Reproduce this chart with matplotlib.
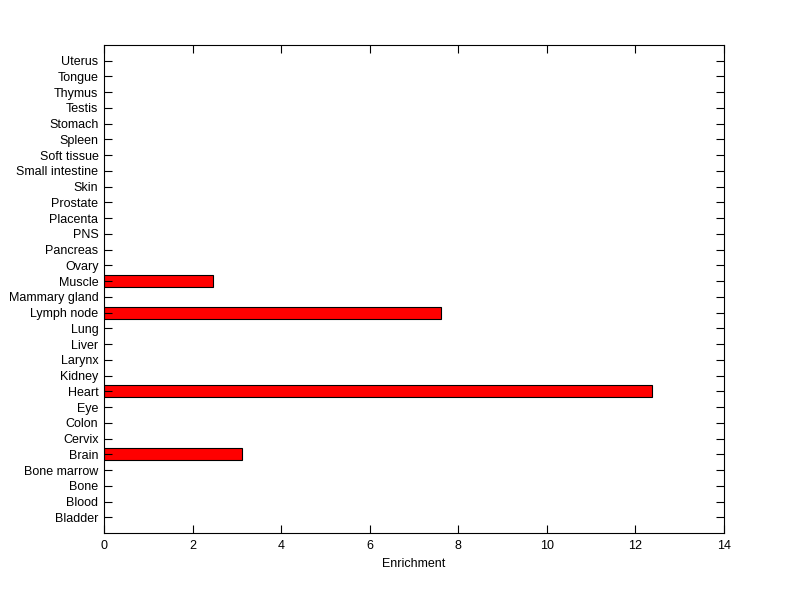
import matplotlib
matplotlib.use("Agg")
import matplotlib.pyplot as plt
import numpy as np

categories = ["Bladder", "Blood", "Bone", "Bone marrow", "Brain", "Cervix", "Colon",
              "Eye", "Heart", "Kidney", "Larynx", "Liver", "Lung", "Lymph node",
              "Mammary gland", "Muscle", "Ovary", "Pancreas", "PNS", "Placenta",
              "Prostate", "Skin", "Small intestine", "Soft tissue", "Spleen",
              "Stomach", "Testis", "Thymus", "Tongue", "Uterus"]
values = [0, 0, 0, 0, 3.11, 0, 0, 0, 12.38, 0, 0, 0, 0, 7.6, 0, 2.45,
          0, 0, 0, 0, 0, 0, 0, 0, 0, 0, 0, 0, 0, 0]
xticks = [0, 2, 4, 6, 8, 10, 12, 14]

plt.rcParams['font.family'] = ['Liberation Sans', 'DejaVu Sans']

fig = plt.figure(figsize=(8, 5.99), dpi=100)
ax = fig.add_axes([0.13, 0.110, 0.775, 0.815])

pos = np.arange(1, len(categories) + 1)
vals = np.array(values)
mask = vals > 0
ax.barh(pos[mask], vals[mask], height=0.75, color='#ff0000', edgecolor='black', linewidth=0.8)

ax.set_xlim(0, 14)
ax.set_ylim(0, len(categories) + 1)
ax.set_xticks(xticks)
ax.set_xticklabels([str(t) for t in xticks])
ax.set_yticks(pos)
ax.set_yticklabels(categories)
ax.tick_params(axis='both', direction='in', length=6, width=0.8, labelsize=9,
               top=True, right=True, colors='black')
ax.tick_params(axis='y', pad=4)
ax.tick_params(axis='x', pad=5)
for s in ax.spines.values():
    s.set_linewidth(0.8)
ax.set_xlabel("Enrichment", fontsize=9, labelpad=4)

fig.savefig("out.png", dpi=100)
